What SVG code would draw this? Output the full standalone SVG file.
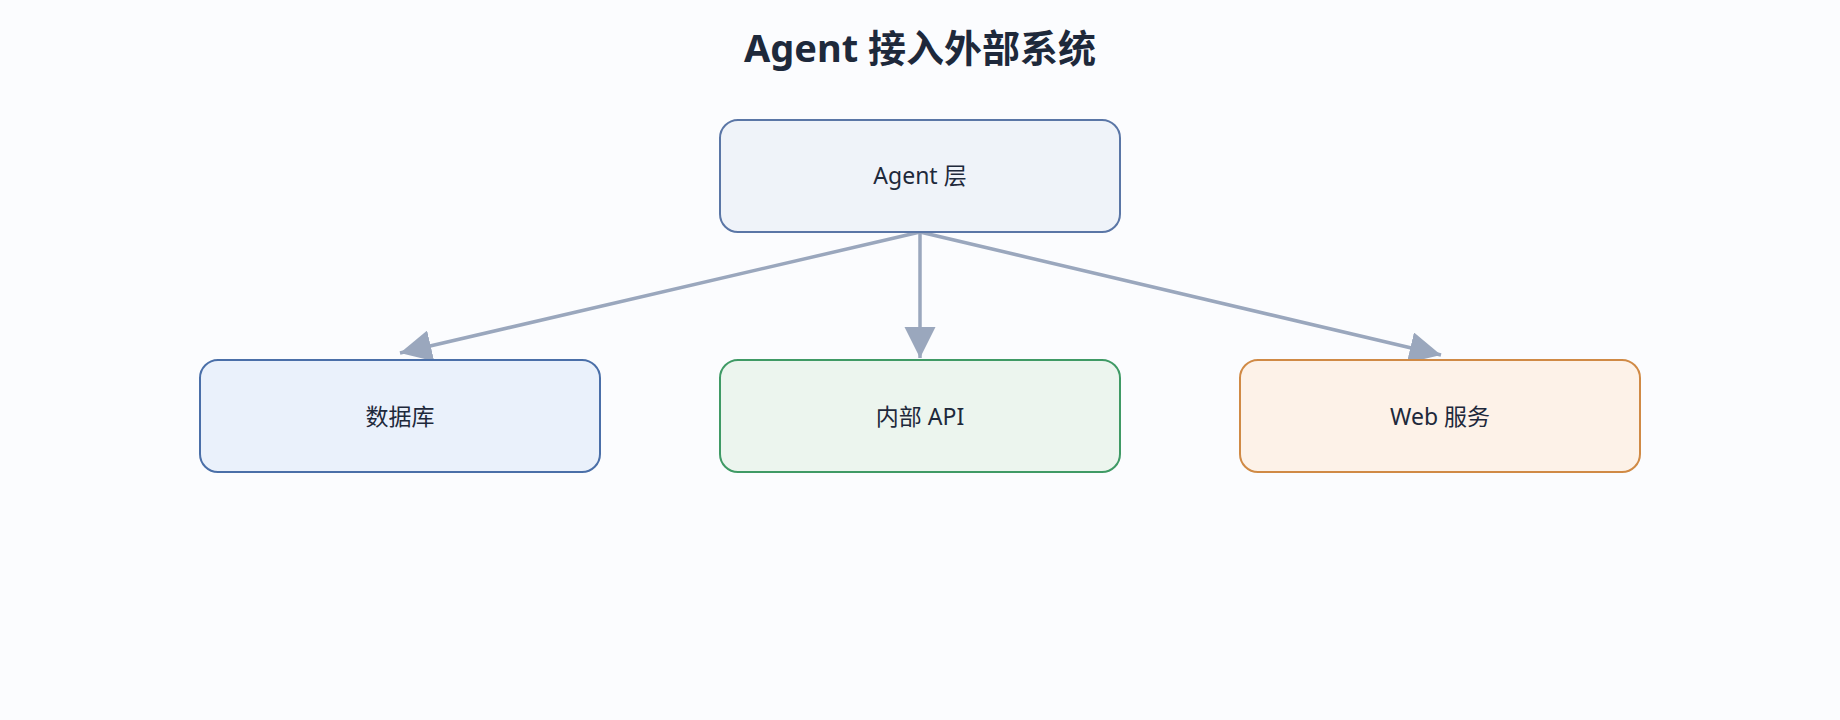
<svg xmlns="http://www.w3.org/2000/svg" width="1840" height="720" viewBox="0 0 1840 720">
<style>
.t{font-family:"Noto Sans","Noto Sans CJK SC",sans-serif;fill:#1e293b;text-anchor:middle;dominant-baseline:central}
.n{font-size:23px}
.c{stroke:#9aa7bd;stroke-width:3.5;fill:none}
</style>
<defs>
<marker id="ah" viewBox="0 0 10 10" refX="10" refY="5" markerWidth="9" markerHeight="9" markerUnits="strokeWidth" orient="auto">
<path d="M0,0 L10,5 L0,10 z" fill="#9aa7bd"/>
</marker>
</defs>
<rect width="1840" height="720" fill="#fbfcfe"/>
<text class="t" x="920" y="47" font-size="38" font-weight="bold" fill="#1e2a44">Agent 接入外部系统</text>
<g id="connectors">
<line class="c" x1="920" y1="232" x2="400" y2="353" marker-end="url(#ah)"/>
<line class="c" x1="920" y1="232" x2="920" y2="358" marker-end="url(#ah)"/>
<line class="c" x1="920" y1="232" x2="1441" y2="355" marker-end="url(#ah)"/>
</g>
<g id="agent"><rect x="720" y="120" width="400" height="112" rx="18" fill="#eff3f9" stroke="#5a76a6" stroke-width="2"/><text class="t n" x="920" y="175">Agent 层</text></g>
<g id="db"><rect x="200" y="360" width="400" height="112" rx="18" fill="#eaf1fb" stroke="#4a6fa8" stroke-width="2"/><text class="t n" x="400" y="416">数据库</text></g>
<g id="api"><rect x="720" y="360" width="400" height="112" rx="18" fill="#ecf5ee" stroke="#3f9a65" stroke-width="2"/><text class="t n" x="920" y="416">内部 API</text></g>
<g id="web"><rect x="1240" y="360" width="400" height="112" rx="18" fill="#fdf2e8" stroke="#d08a45" stroke-width="2"/><text class="t n" x="1440" y="416">Web 服务</text></g>
</svg>
